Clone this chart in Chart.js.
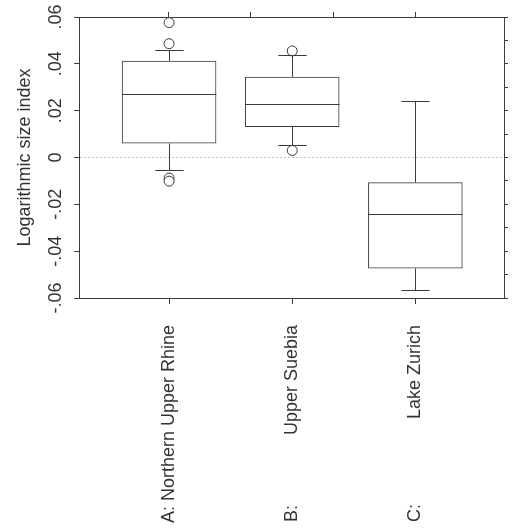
<!DOCTYPE html>
<html>
<head>
<meta charset="utf-8">
<script src="https://cdn.jsdelivr.net/npm/chart.js@4.4.0/dist/chart.umd.min.js"></script>
<style>
  html, body { margin: 0; padding: 0; background: #fff; }
  #wrap { width: 514px; height: 529px; }
</style>
</head>
<body>
<div id="wrap"><canvas id="boxChart"></canvas></div>
<script>
// data
const prefixes = ['A:', 'B:', 'C:'];
const regions = ['Northern Upper Rhine', 'Upper Suebia', 'Lake Zurich'];
const positions = [1, 2, 3];
const q1 = [0.006, 0.013, -0.0474];
const medians = [0.027, 0.023, -0.024];
const q3 = [0.0413, 0.0345, -0.0106];
const whiskerLow = [-0.0052, 0.0053, -0.0566];
const whiskerHigh = [0.046, 0.0439, 0.024];
const outliers = [[0.0576, 0.0486, -0.0088, -0.0101], [0.0455, 0.003], []];
const yTickValues = [-0.06, -0.05, -0.04, -0.03, -0.02, -0.01, 0, 0.01, 0.02, 0.03, 0.04, 0.05, 0.06];

const FONT = '"Liberation Sans", Arial, sans-serif';
const INK = '#3a3a3a';
Chart.defaults.font.family = FONT;
Chart.defaults.font.size = 18;
Chart.defaults.color = '#333';

// pad labels with spaces so the letter prefix sits at the far end, like the original
const measure = document.createElement('canvas').getContext('2d');
measure.font = '18px ' + FONT;
const fullLabels = prefixes.map((p, i) => p + ' ' + regions[i]);
const widest = Math.max(...fullLabels.map(s => measure.measureText(s).width));
const spaceW = measure.measureText(' ').width;
const xLabels = prefixes.map((p, i) => {
  const w = measure.measureText(p + regions[i]).width;
  const n = Math.max(1, Math.round((widest - w) / spaceW));
  return p + ' '.repeat(n) + regions[i];
});

function yLabel(v) {
  const r = Math.round(v * 100);
  if (r % 2 !== 0) return '';
  if (r === 0) return '0';
  return (r < 0 ? '-' : '') + '.' + String(Math.abs(r)).padStart(2, '0');
}

// whiskers, caps and median lines on top of the boxes
const whiskerPlugin = {
  id: 'whiskers',
  afterDatasetsDraw(chart) {
    const ctx = chart.ctx;
    const ys = chart.scales.y;
    const bars = chart.getDatasetMeta(0).data;
    ctx.save();
    ctx.strokeStyle = INK;
    ctx.lineWidth = 1;
    bars.forEach((bar, i) => {
      const x = Math.round(bar.x) + 0.5;
      const half = bar.width / 2;
      const cap = bar.width * 0.15;
      const line = (x1, y1, x2, y2) => {
        ctx.beginPath(); ctx.moveTo(x1, y1); ctx.lineTo(x2, y2); ctx.stroke();
      };
      const yMed = Math.round(ys.getPixelForValue(medians[i])) + 0.5;
      line(bar.x - half, yMed, bar.x + half, yMed);
      const yHi = Math.round(ys.getPixelForValue(whiskerHigh[i])) + 0.5;
      const yLo = Math.round(ys.getPixelForValue(whiskerLow[i])) + 0.5;
      line(x, ys.getPixelForValue(q3[i]), x, yHi);
      line(x - cap, yHi, x + cap, yHi);
      line(x, ys.getPixelForValue(q1[i]), x, yLo);
      line(x - cap, yLo, x + cap, yLo);
    });
    ctx.restore();
  }
};

const boxData = positions.map((p, i) => ({ x: p, y: [q1[i], q3[i]] }));
const outlierData = [];
outliers.forEach((list, i) => list.forEach(v => outlierData.push({ x: positions[i], y: v })));

const xMin = 0.27, xMax = 3.72;
const catTicks = axis => { axis.ticks = positions.map(v => ({ value: v })); };
const allYTicks = axis => { axis.ticks = yTickValues.map(v => ({ value: v })); };

new Chart(document.getElementById('boxChart'), {
  type: 'bar',
  data: {
    datasets: [{
      label: 'box',
      data: boxData,
      backgroundColor: 'rgba(255,255,255,0)',
      borderColor: INK,
      borderWidth: 1,
      borderSkipped: false,
      barPercentage: 0.96,
      categoryPercentage: 0.8
    }, {
      type: 'scatter',
      label: 'outliers',
      data: outlierData,
      pointStyle: 'circle',
      pointRadius: 5,
      pointBackgroundColor: '#fff',
      pointBorderColor: INK,
      pointBorderWidth: 1
    }]
  },
  options: {
    responsive: true,
    maintainAspectRatio: false,
    animation: false,
    layout: { padding: { top: 12, right: 6, bottom: 5, left: 14 } },
    plugins: {
      legend: { display: false },
      tooltip: { enabled: false }
    },
    scales: {
      x: {
        type: 'linear',
        position: 'bottom',
        min: xMin,
        max: xMax,
        offset: false,
        afterBuildTicks: catTicks,
        afterFit: axis => { axis.height = 226; },
        grid: { drawOnChartArea: false, offset: false, tickLength: 6, tickColor: INK },
        border: { color: INK },
        ticks: {
          autoSkip: false,
          minRotation: 90,
          maxRotation: 90,
          padding: 21,
          callback: (v) => xLabels[positions.indexOf(v)] || ''
        }
      },
      x2: {
        type: 'linear',
        position: 'top',
        min: xMin,
        max: xMax,
        afterBuildTicks: catTicks,
        grid: { drawOnChartArea: false, tickLength: 5, tickColor: INK },
        border: { color: INK },
        ticks: { display: false }
      },
      y: {
        min: -0.06,
        max: 0.06,
        afterBuildTicks: allYTicks,
        grid: {
          color: c => (c.tick && c.tick.value === 0) ? '#c4c4c4' : 'rgba(0,0,0,0)',
          tickColor: INK,
          tickLength: 5
        },
        border: { color: INK, dash: [2, 2] },
        ticks: {
          minRotation: 90,
          maxRotation: 90,
          crossAlign: 'center',
          padding: 3,
          callback: yLabel
        },
        title: {
          display: true,
          text: 'Logarithmic size index',
          font: { size: 18 },
          padding: { top: 0, bottom: 11 }
        }
      },
      y2: {
        type: 'linear',
        position: 'right',
        min: -0.06,
        max: 0.06,
        afterBuildTicks: allYTicks,
        grid: { drawOnChartArea: false, tickLength: 4, tickColor: INK },
        border: { color: INK },
        ticks: { display: false }
      }
    }
  },
  plugins: [whiskerPlugin]
});
</script>
</body>
</html>
